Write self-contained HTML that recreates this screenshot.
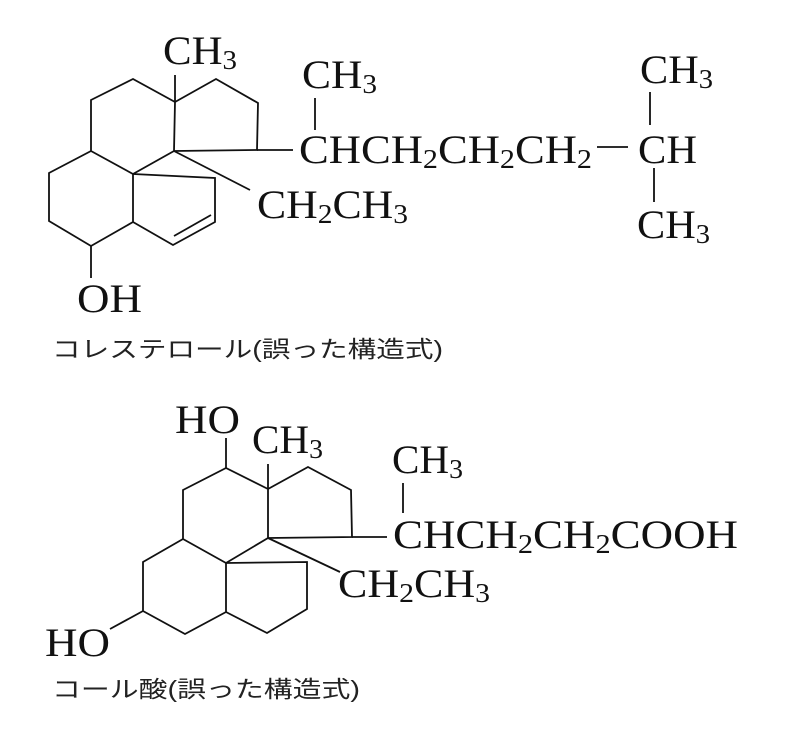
<!DOCTYPE html>
<html><head><meta charset="utf-8"><style>
html,body{margin:0;padding:0;background:#fff;}
svg{display:block;}
.c{font-family:"Liberation Serif",serif;font-size:40px;fill:#111;}
.s{font-size:27px;}
.j{font-family:"Liberation Sans","Noto Sans CJK JP",sans-serif;font-size:23px;fill:#222;}
line,polyline{stroke:#111;stroke-width:1.8;fill:none;}
</style></head><body>
<svg width="800" height="745" viewBox="0 0 800 745" xmlns="http://www.w3.org/2000/svg">
<!-- Top structure -->
<polyline points="91,151 91,100 133,79 175,102 174,151 133,174 91,151"/>
<line x1="175" y1="102" x2="175" y2="75"/>
<polyline points="175,102 216,79 258,103 257,150 174,151"/>
<line x1="257" y1="150" x2="293" y2="150"/>
<line x1="174" y1="151" x2="250" y2="190"/>
<polyline points="91,151 49,173 49,221 91,246 133,222 133,174"/>
<line x1="91" y1="246" x2="91" y2="278"/>
<polyline points="133,174 215,178 215,222 173,245 133,222"/>
<line x1="211" y1="215" x2="174" y2="236"/>
<text class="c" x="163" y="64" textLength="74" lengthAdjust="spacingAndGlyphs">CH<tspan class="s" dy="5">3</tspan></text>
<text class="c" x="77" y="312" textLength="65" lengthAdjust="spacingAndGlyphs">OH</text>
<text class="c" x="302" y="88" textLength="75" lengthAdjust="spacingAndGlyphs">CH<tspan class="s" dy="5">3</tspan></text>
<line x1="315" y1="98" x2="315" y2="130"/>
<text class="c" x="299" y="163" textLength="293" lengthAdjust="spacingAndGlyphs">CHCH<tspan class="s" dy="5">2</tspan><tspan dy="-5">CH</tspan><tspan class="s" dy="5">2</tspan><tspan dy="-5">CH</tspan><tspan class="s" dy="5">2</tspan></text>
<line x1="597" y1="147" x2="628" y2="147"/>
<text class="c" x="638" y="163" textLength="59" lengthAdjust="spacingAndGlyphs">CH</text>
<text class="c" x="640" y="83" textLength="73" lengthAdjust="spacingAndGlyphs">CH<tspan class="s" dy="5">3</tspan></text>
<line x1="650" y1="92" x2="650" y2="125"/>
<line x1="654" y1="168" x2="654" y2="202"/>
<text class="c" x="637" y="238" textLength="73" lengthAdjust="spacingAndGlyphs">CH<tspan class="s" dy="5">3</tspan></text>
<text class="c" x="257" y="218" textLength="151" lengthAdjust="spacingAndGlyphs">CH<tspan class="s" dy="5">2</tspan><tspan dy="-5">CH</tspan><tspan class="s" dy="5">3</tspan></text>
<text class="j" x="52" y="357" textLength="391" lengthAdjust="spacingAndGlyphs">コレステロール(誤った構造式)</text>

<!-- Bottom structure -->
<polyline points="183,539 183,490 226,468 268,489 268,538 226,563 183,539"/>
<line x1="226" y1="468" x2="226" y2="438"/>
<line x1="268" y1="489" x2="268" y2="464"/>
<polyline points="268,489 308,467 351,490 352,537 268,538"/>
<line x1="352" y1="537" x2="387" y2="537"/>
<line x1="268" y1="538" x2="340" y2="572"/>
<polyline points="183,539 143,562 143,611 185,634 226,612 226,563"/>
<line x1="143" y1="611" x2="110" y2="629"/>
<polyline points="226,563 307,562 307,609 267,633 226,612"/>
<text class="c" x="175" y="433" textLength="65" lengthAdjust="spacingAndGlyphs">HO</text>
<text class="c" x="252" y="453" textLength="71" lengthAdjust="spacingAndGlyphs">CH<tspan class="s" dy="5">3</tspan></text>
<text class="c" x="45" y="656" textLength="65" lengthAdjust="spacingAndGlyphs">HO</text>
<text class="c" x="392" y="473" textLength="71" lengthAdjust="spacingAndGlyphs">CH<tspan class="s" dy="5">3</tspan></text>
<line x1="403" y1="483" x2="403" y2="513"/>
<text class="c" x="393" y="548" textLength="345" lengthAdjust="spacingAndGlyphs">CHCH<tspan class="s" dy="5">2</tspan><tspan dy="-5">CH</tspan><tspan class="s" dy="5">2</tspan><tspan dy="-5">COOH</tspan></text>
<text class="c" x="338" y="597" textLength="152" lengthAdjust="spacingAndGlyphs">CH<tspan class="s" dy="5">2</tspan><tspan dy="-5">CH</tspan><tspan class="s" dy="5">3</tspan></text>
<text class="j" x="52" y="697" textLength="308" lengthAdjust="spacingAndGlyphs">コール酸(誤った構造式)</text>
</svg>
</body></html>
